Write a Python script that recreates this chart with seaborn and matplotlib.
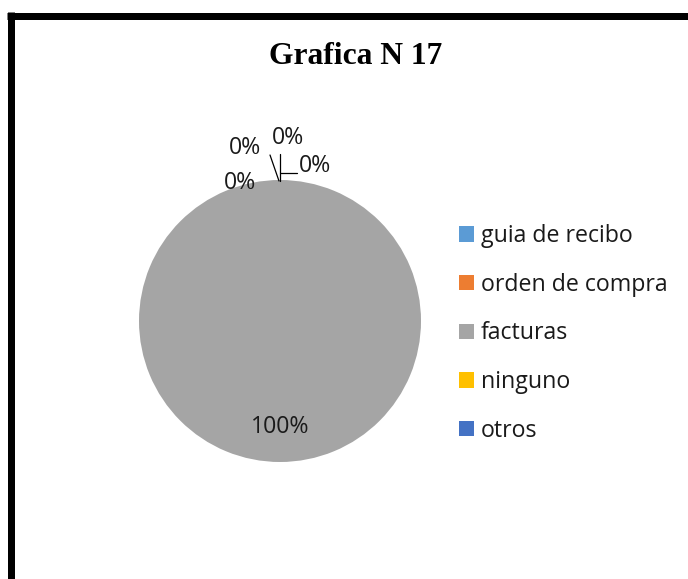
import matplotlib
matplotlib.use("Agg")
import matplotlib.pyplot as plt
import seaborn as sns
from matplotlib.lines import Line2D

sns.set_theme(style="white")
plt.rcParams['font.family'] = ['Open Sans', 'DejaVu Sans']

categories = ["guia de recibo", "orden de compra", "facturas", "ninguno", "otros"]
values = [0, 0, 100, 0, 0]
colors = ["#5B9BD5", "#ED7D31", "#A5A5A5", "#FFC000", "#4472C4"]
title = "Grafica N 17"

W, H = 688, 579
fig = plt.figure(figsize=(W / 100, H / 100), dpi=100)
ax = fig.add_axes([0, 0, 1, 1])
cx, cy, r = 280, 321, 141

def px(x, y):
    return ((x - cx) / r, (cy - y) / r)

wedges, _ = ax.pie(values, colors=colors, startangle=90, counterclock=False,
                   radius=1, center=(0, 0), wedgeprops=dict(linewidth=0))
ax.set_xlim(-cx / r, (W - cx) / r)
ax.set_ylim(-(H - cy) / r, cy / r)
ax.set_aspect("auto")
ax.axis("off")

total = sum(values)
pcts = [f"{v / total * 100:.0f}%" for v in values]
label_px = [(288, 138), (315, 166), (280, 427), (240, 183), (245, 148)]
fs = 16.7
for (lx, ly), t in zip(label_px, pcts):
    ax.text(*px(lx, ly), t, ha="center", va="center", fontsize=fs, color="#1a1a1a")

# leader lines
for seg in [((270, 155), (279, 181)), ((280, 154), (280, 181)), ((280, 173), (297, 173))]:
    (x1, y1), (x2, y2) = seg
    a, b = px(x1, y1), px(x2, y2)
    ax.plot([a[0], b[0]], [a[1], b[1]], color="black", lw=0.9)

leg = ax.legend(wedges, categories, loc="upper left",
                bbox_to_anchor=(459 / W, 1 - 224 / H), bbox_transform=fig.transFigure,
                frameon=False, fontsize=fs, handlelength=0.65, handleheight=0.65,
                handletextpad=0.28, labelspacing=1.065, borderpad=0, borderaxespad=0)
for t in leg.get_texts():
    t.set_color("#1a1a1a")

fig.text(356 / W, 1 - 57 / H, title, ha="center", va="center", fontsize=22.7,
         fontweight="bold", family=["Liberation Serif", "DejaVu Serif"], color="black")

# border
fig.add_artist(Line2D([10.5 / W, 10.5 / W], [0, 1 - 12 / H], transform=fig.transFigure,
                      color="black", lw=5.04, solid_capstyle="butt"))
fig.add_artist(Line2D([7 / W, 1], [1 - 15.5 / H, 1 - 15.5 / H], transform=fig.transFigure,
                      color="black", lw=5.04, solid_capstyle="butt"))

fig.savefig("out.png", dpi=100)
